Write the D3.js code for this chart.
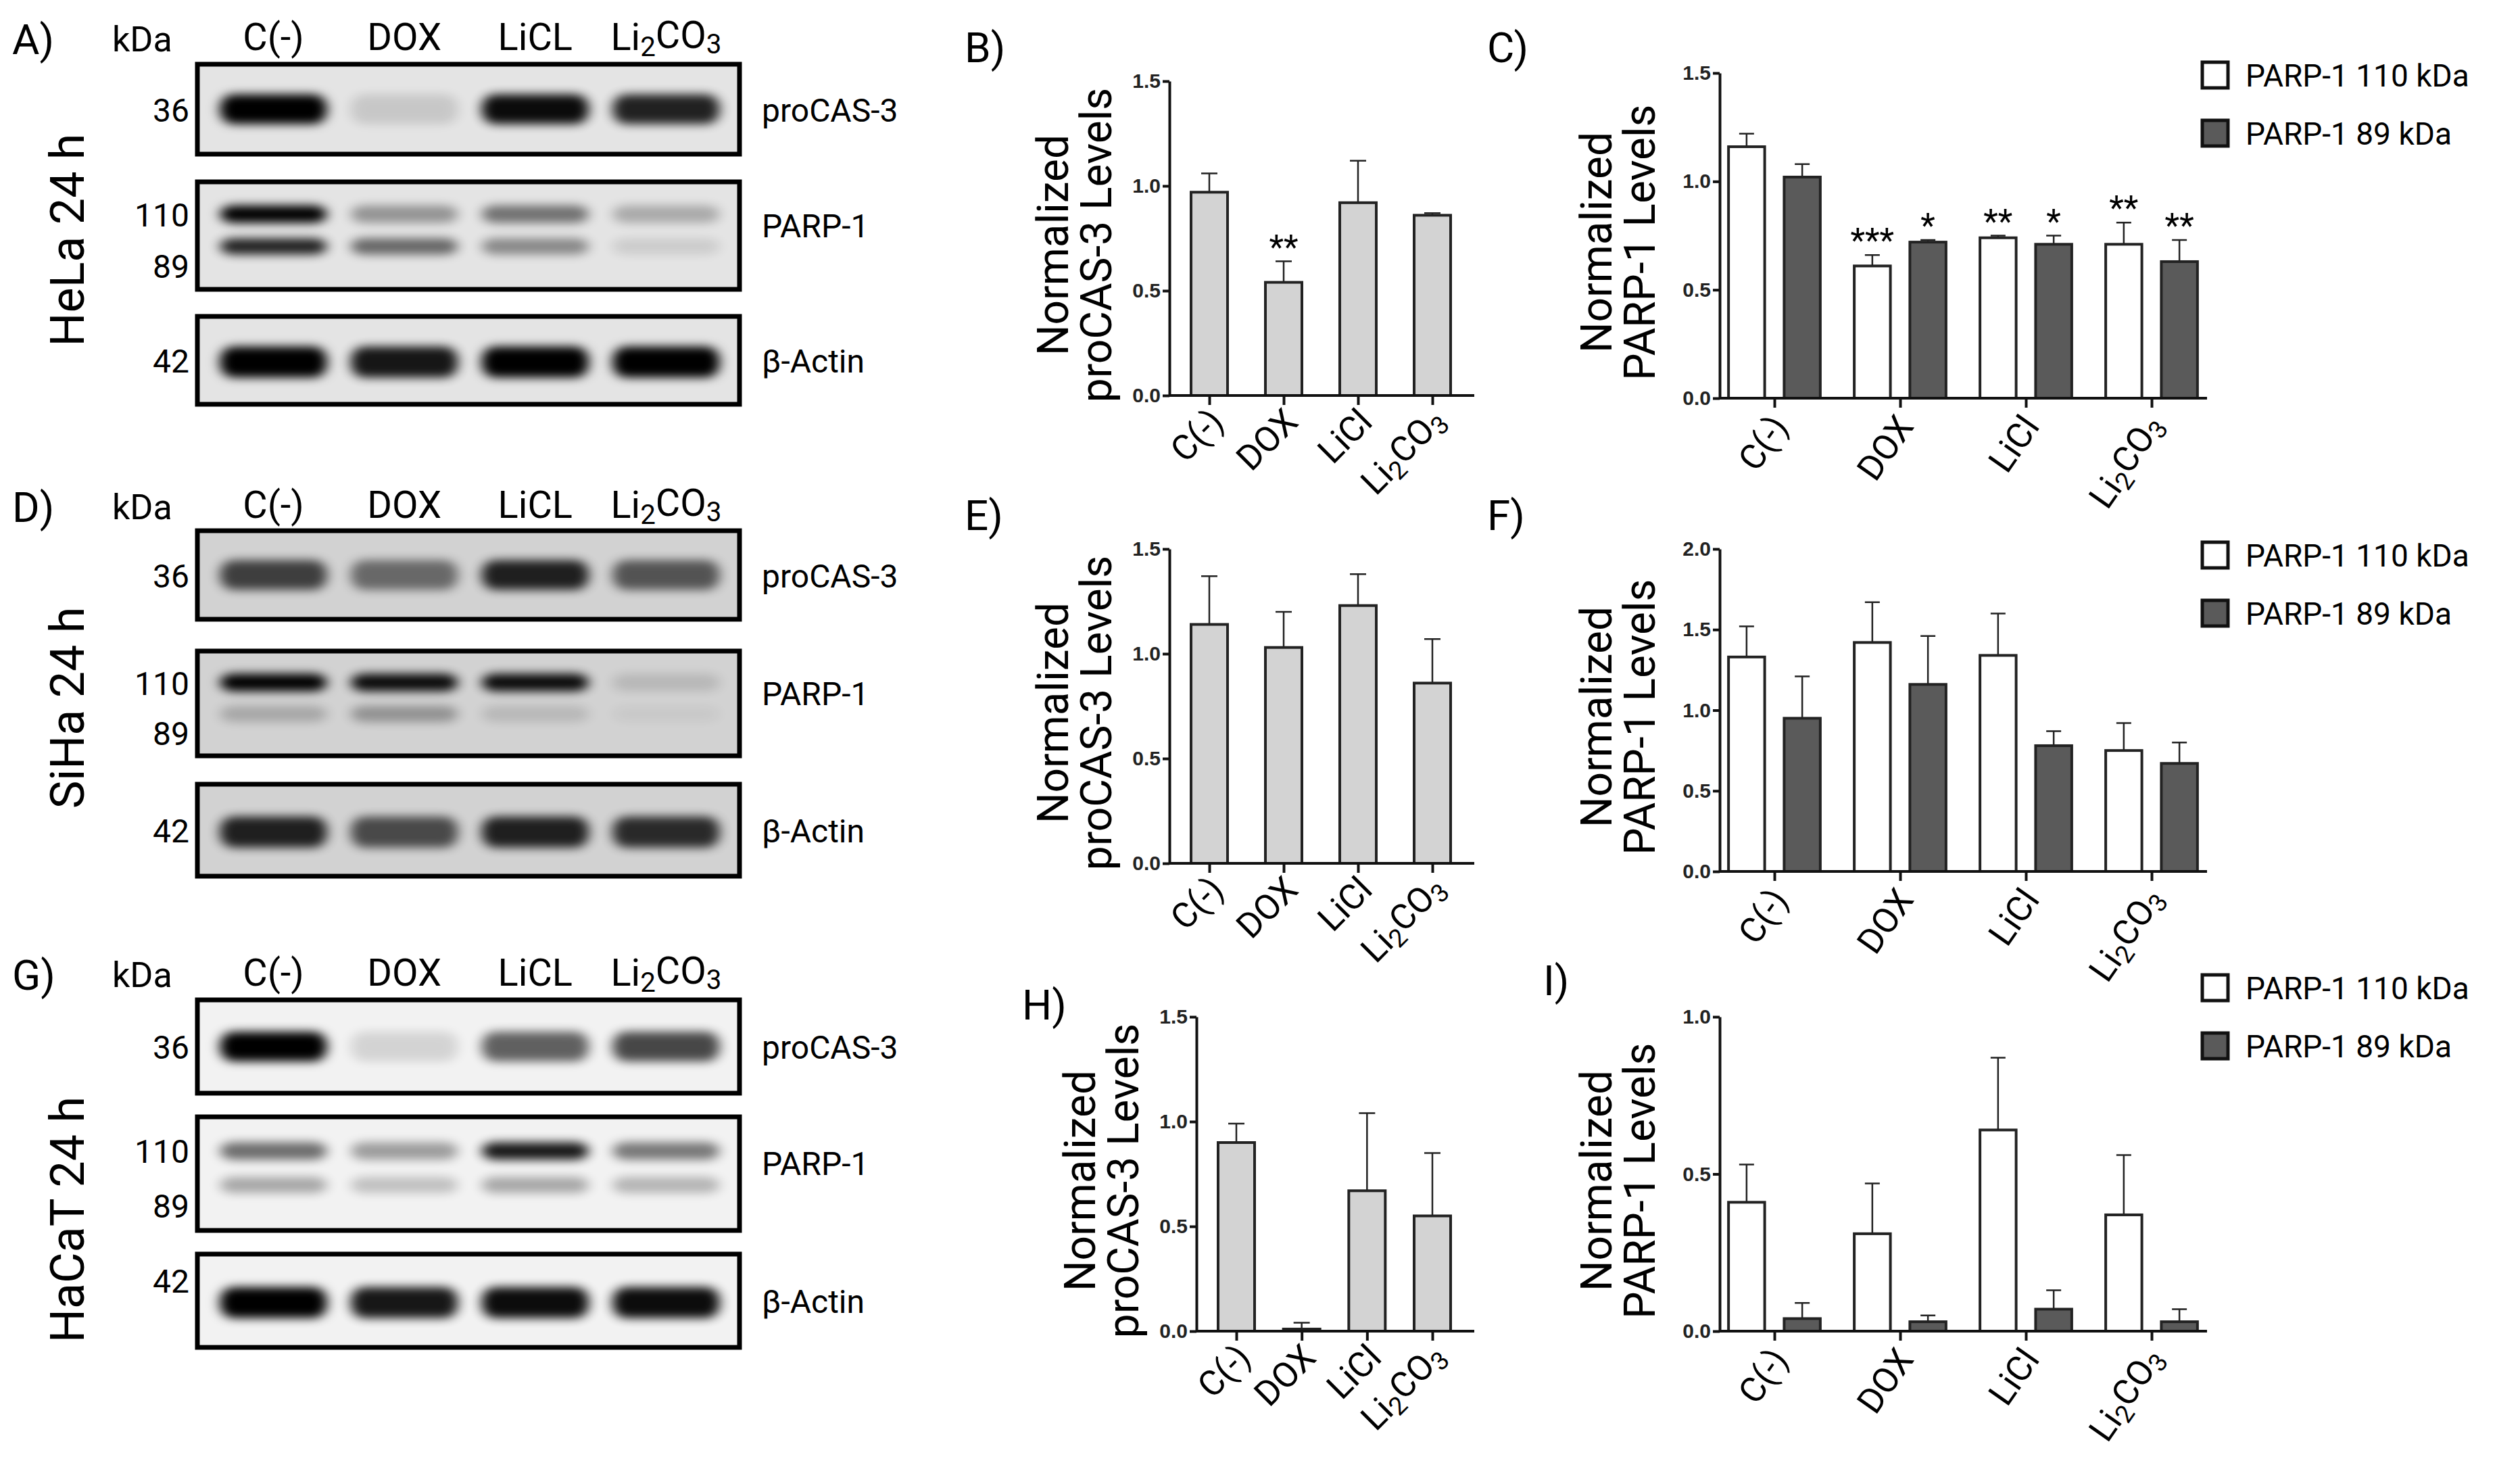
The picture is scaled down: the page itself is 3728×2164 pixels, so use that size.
<!DOCTYPE html>
<html><head><meta charset="utf-8">
<script src="https://cdn.jsdelivr.net/npm/d3@7"></script>
<style>body{margin:0;background:#fff}svg{display:block}</style>
</head><body>
<script>
// ---------------- DATA ----------------
const cats = ["C(-)", "DOX", "LiCl", "Li2CO3"];
const laneNames = ["C(-)", "DOX", "LiCL", "Li2CO3"];
const cellLines = ["HeLa 24 h", "SiHa 24 h", "HaCaT 24 h"];

// proCAS-3 normalized levels (mean, upper error)
const casMean = [[0.97, 0.54, 0.92, 0.86], [1.14, 1.03, 1.23, 0.86], [0.90, 0.01, 0.67, 0.55]];
const casErr  = [[1.06, 0.64, 1.12, 0.87], [1.37, 1.20, 1.38, 1.07], [0.99, 0.04, 1.04, 0.85]];
const casStars = [["", "**", "", ""], ["", "", "", ""], ["", "", "", ""]];
const casTicks = [0, 0.5, 1.0, 1.5];

// PARP-1 normalized levels
const p110Mean = [[1.16, 0.61, 0.74, 0.71], [1.33, 1.42, 1.34, 0.75], [0.41, 0.31, 0.64, 0.37]];
const p110Err  = [[1.22, 0.66, 0.75, 0.81], [1.52, 1.67, 1.60, 0.92], [0.53, 0.47, 0.87, 0.56]];
const p89Mean  = [[1.02, 0.72, 0.71, 0.63], [0.95, 1.16, 0.78, 0.67], [0.04, 0.03, 0.07, 0.03]];
const p89Err   = [[1.08, 0.73, 0.75, 0.73], [1.21, 1.46, 0.87, 0.80], [0.09, 0.05, 0.13, 0.07]];
const p110Stars = [["", "***", "**", "**"], ["", "", "", ""], ["", "", "", ""]];
const p89Stars  = [["", "*", "*", "**"], ["", "", "", ""], ["", "", "", ""]];
const parpMax = [1.5, 2.0, 1.0];
const parpTicks = [[0, 0.5, 1.0, 1.5], [0, 0.5, 1.0, 1.5, 2.0], [0, 0.5, 1.0]];
const legendLabels = ["PARP-1 110 kDa", "PARP-1 89 kDa"];

// Western blot band intensities (0..1 darkness), per cell line, per lane
const bandCas  = [[1.0, 0.12, 0.95, 0.85], [0.7, 0.5, 0.85, 0.6], [1.0, 0.12, 0.6, 0.7]];
const band110  = [[1.0, 0.35, 0.5, 0.25], [1.0, 0.95, 0.95, 0.12], [0.55, 0.35, 0.9, 0.5]];
const band89   = [[0.85, 0.55, 0.4, 0.1], [0.2, 0.3, 0.12, 0.04], [0.3, 0.2, 0.3, 0.25]];
const bandAct  = [[1.0, 0.9, 1.0, 1.0], [0.85, 0.65, 0.85, 0.8], [1.0, 0.9, 0.95, 0.95]];
const blotBg   = ["#e4e4e4", "#d2d2d2", "#f2f2f2"];
const kdaLabels = ["36", "110", "89", "42"];
const proteinLabels = ["proCAS-3", "PARP-1", "β-Actin"];
const panelLetters = [["A)", "B)", "C)"], ["D)", "E)", "F)"], ["G)", "H)", "I)"]];

// ---------------- DRAW ----------------
const W = 3728, H = 2164;
const svg = d3.select("body").append("svg").attr("width", W).attr("height", H);
const defs = svg.append("defs");
defs.append("filter").attr("id", "blur").attr("x", "-20%").attr("y", "-100%").attr("width", "140%").attr("height", "300%")
  .append("feGaussianBlur").attr("stdDeviation", "9 7");
const FONT = "Roboto, 'Liberation Sans', sans-serif";
const NARROW = "'Liberation Sans Narrow', 'Liberation Sans', sans-serif";
const rowOff = [0, 692, 1384];

function li2co3(sel, txt) {
  if (txt === "Li2CO3") {
    sel.append("tspan").text("Li");
    sel.append("tspan").attr("dy", "0.22em").attr("font-size", "72%").text("2");
    sel.append("tspan").attr("dy", "-0.22em").text("CO");
    sel.append("tspan").attr("dy", "0.22em").attr("font-size", "72%").text("3");
  } else sel.text(txt);
}

rowOff.forEach((off, r) => {
  // ----- Western blot -----
  const g = svg.append("g").attr("transform", `translate(0,${off})`);
  g.append("text").attr("x", 18).attr("y", 80).attr("font-family", FONT).attr("font-size", 62).text(panelLetters[r][0]);
  g.append("text").attr("x", 166).attr("y", 76).attr("font-family", FONT).attr("font-size", 52).text("kDa");
  const lane = d3.scaleBand().domain(laneNames).range([300, 1090]).padding(0.08);
  laneNames.forEach(n => {
    const t = g.append("text").attr("x", lane(n) + lane.bandwidth() / 2).attr("y", 74)
      .attr("text-anchor", "middle").attr("font-family", FONT).attr("font-size", 56);
    li2co3(t, n);
  });
  g.append("text").attr("transform", `translate(124,${r === 2 ? 420 : 355}) rotate(-90)`)
    .attr("text-anchor", "middle").attr("font-family", FONT).attr("font-size", 70).text(cellLines[r]);

  const boxes = r === 0 ? [[95, 228], [269, 428], [468, 598]] : r === 1 ? [[93, 224], [271, 426], [468, 604]] : [[95, 233], [268, 436], [471, 609]];
  const bandsPerBox = [[{d: bandCas[r], f: 0.5, h: 44}], [{d: band110[r], f: 0.3, h: 26}, {d: band89[r], f: 0.6, h: 24}], [{d: bandAct[r], f: 0.52, h: 46}]];
  boxes.forEach((b, i) => {
    const bx = g.append("g");
    bx.append("rect").attr("x", 292).attr("y", b[0]).attr("width", 802).attr("height", b[1] - b[0]).attr("fill", blotBg[r]);
    bandsPerBox[i].forEach(bd => {
      bx.selectAll(null).data(bd.d).enter().append("rect")
        .attr("x", (v, j) => lane(laneNames[j]) + 10).attr("width", lane.bandwidth() - 20)
        .attr("y", b[0] + (b[1] - b[0]) * bd.f - bd.h / 2).attr("height", bd.h).attr("rx", 20)
        .attr("fill", "#000").attr("opacity", v => v).attr("filter", "url(#blur)");
    });
    bx.append("rect").attr("x", 292).attr("y", b[0]).attr("width", 802).attr("height", b[1] - b[0])
      .attr("fill", "none").attr("stroke", "#000").attr("stroke-width", 7);
    g.append("text").attr("x", 1127).attr("y", (b[0] + b[1]) / 2 + (i === 1 ? 2 : 18)).attr("font-family", FONT).attr("font-size", 48)
      .text(proteinLabels[i]);
  });
  const kdaY = [(boxes[0][0] + boxes[0][1]) / 2 + 18, boxes[1][0] + (boxes[1][1] - boxes[1][0]) * 0.3 + 18,
                boxes[1][0] + (boxes[1][1] - boxes[1][0]) * 0.78 + 18, (boxes[2][0] + boxes[2][1]) / 2 + 18 - (r === 2 ? 30 : 0)];
  kdaLabels.forEach((k, i) => g.append("text").attr("x", 280).attr("y", kdaY[i]).attr("text-anchor", "end")
    .attr("font-family", FONT).attr("font-size", 48).text(k));

  // ----- proCAS-3 bar chart -----
  const ax0 = r === 2 ? 1770 : 1730, top = 120, bot = 585;
  const gb = svg.append("g").attr("transform", `translate(0,${off})`);
  gb.append("text").attr("x", r === 2 ? 1512 : 1427).attr("y", r === 2 ? 124 : 92).attr("font-family", FONT).attr("font-size", 62).text(panelLetters[r][1]);
  const y = d3.scaleLinear().domain([0, 1.5]).range([bot, top]);
  const x = d3.scalePoint().domain(cats).range([ax0 + 59, 2119]);
  const bw = 54;
  gb.selectAll(".err").data(cats).enter().append("path")
    .attr("d", (c, i) => `M${x(c)},${y(casMean[r][i])}V${y(casErr[r][i])}M${x(c) - 12},${y(casErr[r][i])}H${x(c) + 12}`)
    .attr("stroke", "#222").attr("stroke-width", 2.5).attr("fill", "none");
  gb.selectAll(".bar").data(cats).enter().append("rect")
    .attr("x", c => x(c) - bw / 2).attr("width", bw)
    .attr("y", (c, i) => y(casMean[r][i])).attr("height", (c, i) => bot - y(casMean[r][i]))
    .attr("fill", "#d3d3d3").attr("stroke", "#222").attr("stroke-width", 4);
  gb.selectAll(".star").data(cats).enter().append("text")
    .attr("x", c => x(c)).attr("y", (c, i) => y(casErr[r][i]) - 4).attr("text-anchor", "middle")
    .attr("font-family", FONT).attr("font-size", 50).text((c, i) => casStars[r][i]);
  const yAx = gb.append("g").attr("transform", `translate(${ax0},0)`)
    .call(d3.axisLeft(y).tickValues(casTicks).tickFormat(d3.format(".1f")).tickSize(10).tickSizeOuter(0));
  const xAx = gb.append("g").attr("transform", `translate(0,${bot})`)
    .call(d3.axisBottom(x).tickSize(14).tickFormat("")) ;
  xAx.select(".domain").attr("d", `M${ax0},0H2181`);
  [yAx, xAx].forEach(a => { a.selectAll("path,line").attr("stroke", "#111").attr("stroke-width", 4); });
  yAx.selectAll("text").attr("font-family", NARROW).attr("font-weight", "bold").attr("font-size", 30).attr("fill", "#222");
  cats.forEach(c => {
    const t = gb.append("text").attr("transform", `translate(${x(c) + 24},${bot + 42}) rotate(-45)`)
      .attr("text-anchor", "end").attr("font-family", FONT).attr("font-size", 52);
    li2co3(t, c);
  });
  const ty = (top + bot) / 2 + 10;
  gb.append("text").attr("transform", `translate(${ax0 - 150},${ty}) rotate(-90)`).attr("text-anchor", "middle")
    .attr("font-family", FONT).attr("font-size", 64).text("Normalized");
  gb.append("text").attr("transform", `translate(${ax0 - 86},${ty}) rotate(-90)`).attr("text-anchor", "middle")
    .attr("font-family", FONT).attr("font-size", 64).text("proCAS-3 Levels");

  // ----- PARP-1 grouped bar chart -----
  const px0 = 2544, ptop = r === 0 ? 108 : top, pbot = r === 0 ? 589 : bot + (r === 1 ? 12 : 0);
  const gp = svg.append("g").attr("transform", `translate(0,${off})`);
  gp.append("text").attr("x", r === 2 ? 2283 : 2200).attr("y", r === 2 ? 88 : 92).attr("font-family", FONT).attr("font-size", 62).text(panelLetters[r][2]);
  const py = d3.scaleLinear().domain([0, parpMax[r]]).range([pbot, ptop]);
  const px = d3.scalePoint().domain(cats).range([2625, 3183]);
  const sub = d3.scaleBand().domain([0, 1]).range([-72, 72]).paddingInner(0.35).paddingOuter(0.05);
  const series = [{m: p110Mean[r], e: p110Err[r], s: p110Stars[r], fill: "#fff"}, {m: p89Mean[r], e: p89Err[r], s: p89Stars[r], fill: "#5a5a5a"}];
  series.forEach((sr, si) => {
    const cx = c => px(c) + sub(si) + sub.bandwidth() / 2;
    gp.selectAll(null).data(cats).enter().append("path")
      .attr("d", (c, i) => `M${cx(c)},${py(sr.m[i])}V${py(sr.e[i])}M${cx(c) - 11},${py(sr.e[i])}H${cx(c) + 11}`)
      .attr("stroke", "#222").attr("stroke-width", 2.5).attr("fill", "none");
    gp.selectAll(null).data(cats).enter().append("rect")
      .attr("x", c => px(c) + sub(si)).attr("width", sub.bandwidth())
      .attr("y", (c, i) => py(sr.m[i])).attr("height", (c, i) => pbot - py(sr.m[i]))
      .attr("fill", sr.fill).attr("stroke", "#222").attr("stroke-width", 4);
    gp.selectAll(null).data(cats).enter().append("text")
      .attr("x", c => cx(c)).attr("y", (c, i) => py(sr.e[i]) - 4).attr("text-anchor", "middle")
      .attr("font-family", FONT).attr("font-size", 50).text((c, i) => sr.s[i]);
  });
  const pyAx = gp.append("g").attr("transform", `translate(${px0},0)`)
    .call(d3.axisLeft(py).tickValues(parpTicks[r]).tickFormat(d3.format(".1f")).tickSize(10).tickSizeOuter(0));
  const pxAx = gp.append("g").attr("transform", `translate(0,${pbot})`).call(d3.axisBottom(px).tickSize(14).tickFormat(""));
  pxAx.select(".domain").attr("d", `M${px0},0H3265`);
  [pyAx, pxAx].forEach(a => { a.selectAll("path,line").attr("stroke", "#111").attr("stroke-width", 4); });
  pyAx.selectAll("text").attr("font-family", NARROW).attr("font-weight", "bold").attr("font-size", 30).attr("fill", "#222");
  cats.forEach(c => {
    const t = gp.append("text").attr("transform", `translate(${px(c) + 22},${pbot + 42}) rotate(-55)`)
      .attr("text-anchor", "end").attr("font-family", FONT).attr("font-size", 52);
    li2co3(t, c);
  });
  const pty = (ptop + pbot) / 2 + 10;
  gp.append("text").attr("transform", `translate(${px0 - 160},${pty}) rotate(-90)`).attr("text-anchor", "middle")
    .attr("font-family", FONT).attr("font-size", 64).text("Normalized");
  gp.append("text").attr("transform", `translate(${px0 - 96},${pty}) rotate(-90)`).attr("text-anchor", "middle")
    .attr("font-family", FONT).attr("font-size", 64).text("PARP-1 Levels");
  // legend
  const lg = gp.append("g").attr("transform", `translate(3258,${r === 2 ? 58 : 92 + (r === 1 ? 18 : 0)})`);
  legendLabels.forEach((l, i) => {
    lg.append("rect").attr("x", 0).attr("y", i * 86).attr("width", 38).attr("height", 38)
      .attr("fill", series[i].fill).attr("stroke", "#111").attr("stroke-width", 5);
    lg.append("text").attr("x", 64).attr("y", i * 86 + 36).attr("font-family", FONT).attr("font-size", 46).text(l);
  });
});
</script>
</body></html>
